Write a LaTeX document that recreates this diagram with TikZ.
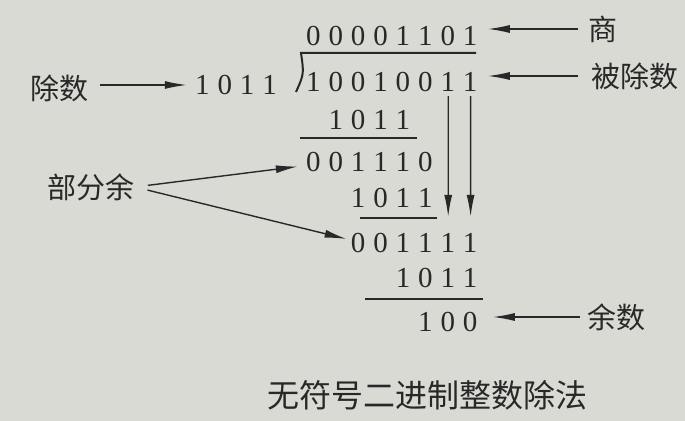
\documentclass[tikz,border=0pt]{standalone}
\usepackage{fontspec}
\usetikzlibrary{arrows.meta}
\newfontfamily\digitfont{Liberation Serif}
\newfontfamily\cjk{Noto Sans CJK SC}
\definecolor{paper}{RGB}{218,218,212}
\definecolor{ink}{RGB}{40,40,40}
\tikzset{
  bits/.style={inner sep=0pt,anchor=west,text=ink,font=\digitfont\fontsize{14.5}{16}\selectfont},
  tag/.style={inner sep=0pt,text=ink,font=\cjk\fontsize{14.5}{16}\selectfont},
  pointer/.style={draw=ink,line width=0.7pt,-{Latex[length=11pt,width=4pt]}},
  rule/.style={draw=ink,line width=1pt}
}
\begin{document}
\begin{tikzpicture}[x=0.5pt,y=-0.5pt]
  \fill[paper] (0,0) rectangle (685,421);
  % rows of the division
  \node[bits] (q) at (301.8,36) {\foreach \b in {0,0,0,0,1,1,0,1}{\makebox[11.2pt]{\b}}};
  \node[bits] (a) at (301.8,82) {\foreach \b in {1,0,0,1,0,0,1,1}{\makebox[11.2pt]{\b}}};
  \node[bits] (divisor) at (190.8,85) {\foreach \b in {1,0,1,1}{\makebox[11.2pt]{\b}}};
  \node[bits] (s1) at (324.2,120) {\foreach \b in {1,0,1,1}{\makebox[11.2pt]{\b}}};
  \node[bits] (p1) at (301.8,162) {\foreach \b in {0,0,1,1,1,0}{\makebox[11.2pt]{\b}}};
  \node[bits] (s2) at (346.6,198) {\foreach \b in {1,0,1,1}{\makebox[11.2pt]{\b}}};
  \node[bits] (p2) at (346.6,243) {\foreach \b in {0,0,1,1,1,1}{\makebox[11.2pt]{\b}}};
  \node[bits] (s3) at (391.4,278) {\foreach \b in {1,0,1,1}{\makebox[11.2pt]{\b}}};
  \node[bits] (r) at (413.8,322) {\foreach \b in {1,0,0}{\makebox[11.2pt]{\b}}};
  % division sign and rules
  \draw[rule] (476,53) -- (301,53) .. controls (304,74) .. (296,92);
  \draw[rule] (300,138) -- (417,138);
  \draw[rule] (360,218) -- (437,218);
  \draw[rule] (365,299) -- (483,299);
  % labels
  \node[tag] (chushu) at (59,88) {除数};
  \node[tag] (shang) at (603,29) {商};
  \node[tag] (beichu) at (635,76) {被除数};
  \node[tag] (bufen) at (91,187) {部分余};
  \node[tag] (yushu) at (616,317) {余数};
  \node[tag,font=\cjk\fontsize{16}{18}\selectfont] (title) at (427,395) {无符号二进制整数除法};
  % arrows
  \draw[pointer,shorten <=6pt,shorten >=2pt] (divisor.west -| chushu.east) -- (divisor.west);
  \draw[pointer,shorten <=5pt,shorten >=3pt] (shang.west) -- (shang.west -| q.east);
  \draw[pointer,shorten <=6.5pt,shorten >=3pt] (beichu.west) -- (beichu.west -| a.east);
  \draw[pointer,shorten <=3.5pt,shorten >=5.5pt] (yushu.west) -- (yushu.west -| r.east);
  \draw[pointer,shorten <=6.5pt,shorten >=2pt] (bufen.east) -- ([yshift=-2pt]p1.west);
  \draw[pointer,shorten <=6.5pt] (bufen.east) -- ([yshift=2pt]p2.west);
  \draw[pointer,shorten <=2pt,shorten >=8pt] ([xshift=-16.8pt]a.south east) -- ([xshift=-16.8pt]p2.north east);
  \draw[pointer,shorten <=2pt,shorten >=8pt] ([xshift=-5.6pt]a.south east) -- ([xshift=-5.6pt]p2.north east);
\end{tikzpicture}
\end{document}
